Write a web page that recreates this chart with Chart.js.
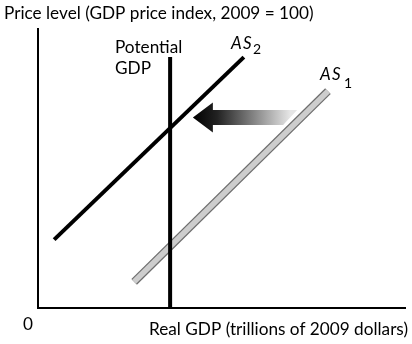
<!DOCTYPE html>
<html>
<head>
<meta charset="utf-8">
<script src="https://cdn.jsdelivr.net/npm/chart.js@4.4.0/dist/chart.umd.min.js"></script>
<style>
  html, body { margin: 0; padding: 0; background: #fff; }
  #wrap { width: 412px; height: 344px; }
</style>
</head>
<body>
<div id="wrap"><canvas id="asChart" width="412" height="344"></canvas></div>
<script>
// curves on a 0-100 scale for both axes
const potentialX = [36, 36];
const potentialY = [0, 90];
const as2X = [4.4, 56.1];
const as2Y = [24.5, 89.9];
const as1X = [26.2, 79.0];
const as1Y = [9.4, 77.7];
// shift arrow: tail -> head
const arrowX = [68.7, 42.2];
const arrowY = [68.3, 68.3];

const pts = (xs, ys) => xs.map((x, i) => ({x: x, y: ys[i]}));

const FONT = 'Lato, "Open Sans", sans-serif';

const labelPlugin = {
  id: 'labels',
  beforeDatasetsDraw(chart) {
    // gradient arrow behind the curves
    const ctx = chart.ctx;
    const xs = chart.scales.x, ys = chart.scales.y;
    const tailX = xs.getPixelForValue(arrowX[0]);
    const tipX = xs.getPixelForValue(arrowX[1]);
    const cy = ys.getPixelForValue(arrowY[0]);
    const headLen = 20, headHalf = 15, bodyHalf = 7.5, slant = 7;
    const grad = ctx.createLinearGradient(tipX, 0, tailX, 0);
    grad.addColorStop(0, '#000');
    grad.addColorStop(0.25, '#222');
    grad.addColorStop(1, '#e6e6e6');
    ctx.save();
    ctx.fillStyle = grad;
    ctx.beginPath();
    ctx.moveTo(tipX, cy);
    ctx.lineTo(tipX + headLen, cy - headHalf);
    ctx.lineTo(tipX + headLen, cy - bodyHalf);
    ctx.lineTo(tailX + slant, cy - bodyHalf);
    ctx.lineTo(tailX - slant, cy + bodyHalf);
    ctx.lineTo(tipX + headLen, cy + bodyHalf);
    ctx.lineTo(tipX + headLen, cy + headHalf);
    ctx.closePath();
    ctx.fill();
    ctx.restore();
  },
  afterDraw(chart) {
    const ctx = chart.ctx;
    ctx.save();
    ctx.fillStyle = '#000';
    ctx.textBaseline = 'alphabetic';
    ctx.font = '17.2px ' + FONT;
    ctx.textAlign = 'left';
    ctx.fillText('Price level (GDP price index, 2009 = 100)', 4, 19);
    ctx.fillText('Potential', 115, 53);
    ctx.fillText('GDP', 115, 74);
    ctx.fillText('0', 23, 330);
    ctx.textAlign = 'right';
    ctx.fillText('Real GDP (trillions of 2009 dollars)', 408, 335);
    ctx.textAlign = 'left';
    // curve names with subscripts
    ctx.font = 'italic 17px ' + FONT;
    ctx.fillText('A', 231, 49);
    ctx.fillText('S', 243, 49);
    ctx.fillText('A', 320, 80);
    ctx.fillText('S', 332, 80);
    ctx.font = '14px ' + FONT;
    ctx.fillText('2', 253, 54);
    ctx.fillText('1', 344, 88);
    ctx.restore();
  }
};

new Chart(document.getElementById('asChart'), {
  type: 'scatter',
  data: {
    datasets: [
      {data: pts(as1X, as1Y), order: 4, showLine: true, borderColor: '#6e6e6e', borderWidth: 8, borderCapStyle: 'butt', pointRadius: 0},
      {data: pts(as1X, as1Y), order: 3, showLine: true, borderColor: '#cdcdcd', borderWidth: 5.5, borderCapStyle: 'butt', pointRadius: 0},
      {data: pts(as2X, as2Y), order: 2, showLine: true, borderColor: '#000', borderWidth: 4, borderCapStyle: 'butt', pointRadius: 0},
      {data: pts(potentialX, potentialY), order: 1, showLine: true, borderColor: '#000', borderWidth: 4, borderCapStyle: 'butt', pointRadius: 0}
    ]
  },
  options: {
    responsive: false,
    animation: false,
    layout: {padding: {left: 30, top: 29, right: 7, bottom: 28}},
    plugins: {legend: {display: false}, tooltip: {enabled: false}},
    scales: {
      x: {
        min: 0, max: 100,
        ticks: {display: false},
        grid: {display: false},
        border: {display: true, color: '#000', width: 2}
      },
      y: {
        min: 0, max: 100,
        ticks: {display: false},
        grid: {display: false},
        border: {display: true, color: '#000', width: 2}
      }
    }
  },
  plugins: [labelPlugin]
});
</script>
</body>
</html>
